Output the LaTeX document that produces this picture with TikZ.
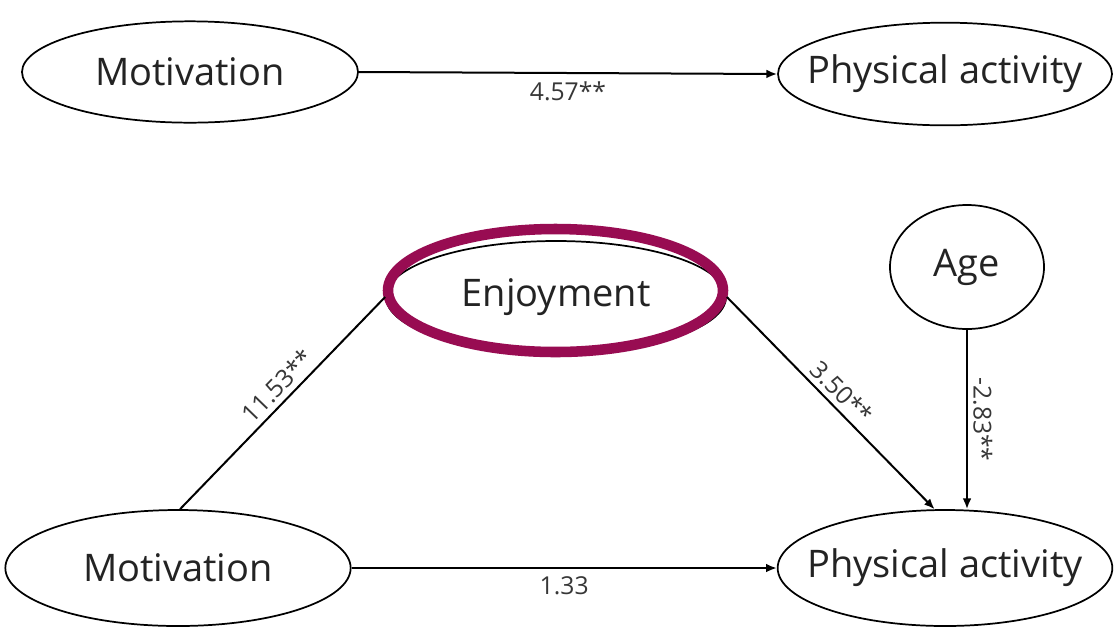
\documentclass[tikz,border=0pt]{standalone}
\usepackage{fontspec}
\setmainfont{Open Sans}
\usetikzlibrary{shapes.geometric,arrows.meta}
\definecolor{maroon}{RGB}{152,12,82}
\definecolor{txt}{RGB}{35,35,35}
\definecolor{lbl}{RGB}{55,55,55}
\begin{document}
\begin{tikzpicture}[x=0.75pt,y=-0.75pt,
  var/.style={ellipse,draw=black,line width=1.3pt,inner sep=0pt,text=txt,font=\fontsize{28.5}{34}\selectfont},
  conn/.style={line width=1.5pt,draw=black},
  arr/.style={conn,-{Latex[length=8pt,width=6.5pt]}},
  coef/.style={font=\fontsize{18.5}{22}\selectfont,text=lbl,inner sep=2pt}]
\useasboundingbox[fill=white] (0,0) rectangle (1116,626);

\node[var,minimum width=252pt,minimum height=76pt] (mot1) at (190,72) {Motivation};
\node[var,minimum width=250.5pt,minimum height=77pt] (pa1) at (945,74) {\makebox[0pt][c]{Physical activity}};
\node[var,minimum width=259pt,minimum height=87pt] (mot2) at (178,568) {Motivation};
\node[var,minimum width=251pt,minimum height=87pt] (pa2) at (945,568) {\makebox[0pt][c]{Physical activity}};
\node[var,minimum width=115.5pt,minimum height=93pt] (age) at (967,267) {Age};
\node[var,minimum width=255pt,minimum height=84pt] (enj) at (556,297) {\makebox[0pt][c]{Enjoyment}};
\draw[maroon,line width=7.9pt] (555.5,290.5) ellipse [x radius=167.5, y radius=61.5];

\draw[arr] (mot1.east) -- node[coef,below=4pt]{4.57**} (pa1.west);
\draw[conn] (mot2.88) -- node[coef,above=2pt,sloped,pos=0.53]{11.53**} (enj.west);
\draw[arr] (enj.east) -- node[coef,above=2pt,sloped]{3.50**} (pa2.100);
\draw[arr] (age.south) -- node[coef,above=2pt,sloped,allow upside down]{-2.83**} (age.south |- pa2.north);
\draw[arr] (mot2.east) -- node[coef,below=4pt]{1.33} (pa2.west);
\end{tikzpicture}
\end{document}
